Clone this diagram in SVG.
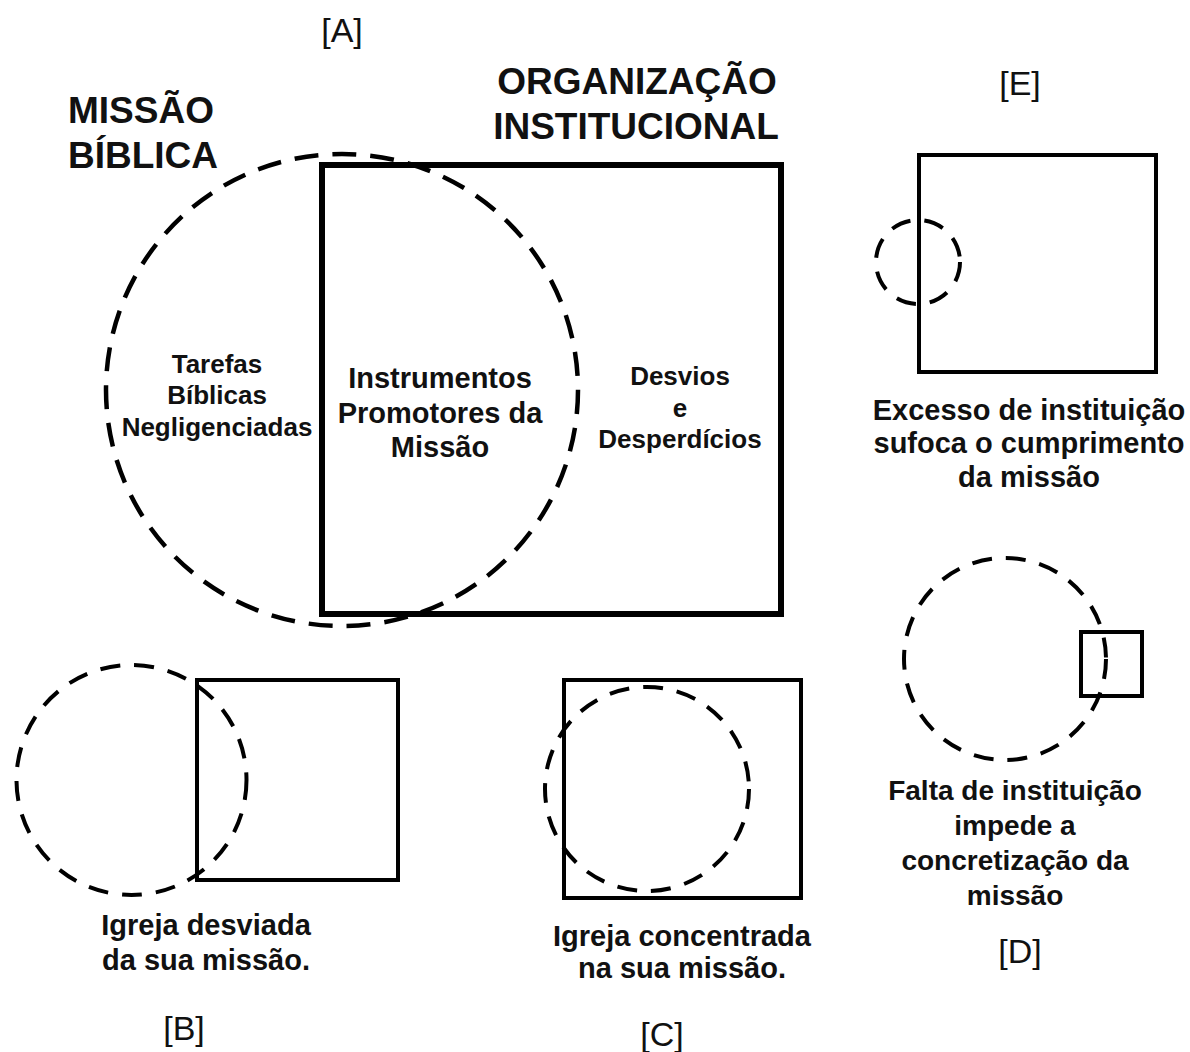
<svg xmlns="http://www.w3.org/2000/svg" width="1190" height="1052" viewBox="0 0 1190 1052">
<style>
.bg{fill:#fff}
.box{fill:none;stroke:#000;stroke-linejoin:miter}
.dc{fill:none;stroke:#000}
text{font-family:"Liberation Sans",Arial,sans-serif;fill:#111}
.t{font-weight:bold;font-size:37px}
.l{font-weight:bold;font-size:26px;text-anchor:middle}
.m{font-weight:bold;font-size:29px;text-anchor:middle}
.c{font-weight:bold;font-size:29px;text-anchor:middle}
.d{font-weight:bold;font-size:28px;text-anchor:middle}
.k{font-size:34px;text-anchor:middle}
</style>
<rect class="bg" x="0" y="0" width="1190" height="1052"/>
<g id="diagramA">
<rect class="box" x="322" y="165" width="459" height="449" stroke-width="6"/>
<circle class="dc" cx="342" cy="390" r="236" stroke-width="4.5" stroke-dasharray="24 14"/>
<text class="k" x="342" y="42">[A]</text>
<text class="t" x="68" y="123">MISSÃO</text>
<text class="t" x="68" y="168">BÍBLICA</text>
<text class="t" x="637" y="94" text-anchor="middle">ORGANIZAÇÃO</text>
<text class="t" x="636" y="139" text-anchor="middle">INSTITUCIONAL</text>
<text class="l" x="217" y="373">Tarefas</text>
<text class="l" x="217" y="404">Bíblicas</text>
<text class="l" x="217" y="436">Negligenciadas</text>
<text class="m" x="440" y="388">Instrumentos</text>
<text class="m" x="440" y="423">Promotores da</text>
<text class="m" x="440" y="457">Missão</text>
<text class="l" x="680" y="385">Desvios</text>
<text class="l" x="680" y="417">e</text>
<text class="l" x="680" y="448">Desperdícios</text>
</g>
<g id="diagramB">
<rect class="box" x="197" y="680" width="201" height="200" stroke-width="4"/>
<circle class="dc" cx="131.5" cy="780" r="115" stroke-width="4" stroke-dasharray="20 14"/>
<text class="c" x="206" y="935">Igreja desviada</text>
<text class="c" x="206" y="970">da sua missão.</text>
<text class="k" x="184" y="1040">[B]</text>
</g>
<g id="diagramC">
<rect class="box" x="564" y="680" width="237" height="218" stroke-width="4"/>
<circle class="dc" cx="647" cy="789" r="102" stroke-width="4" stroke-dasharray="20 14"/>
<text class="c" x="682" y="946">Igreja concentrada</text>
<text class="c" x="682" y="978">na sua missão.</text>
<text class="k" x="662" y="1046">[C]</text>
</g>
<g id="diagramE">
<rect class="box" x="919" y="155" width="237" height="217" stroke-width="4"/>
<circle class="dc" cx="918" cy="262" r="42" stroke-width="4" stroke-dasharray="20 14"/>
<text class="k" x="1020" y="95">[E]</text>
<text class="c" x="1029" y="420">Excesso de instituição</text>
<text class="c" x="1029" y="453">sufoca o cumprimento</text>
<text class="c" x="1029" y="487">da missão</text>
</g>
<g id="diagramD">
<circle class="dc" cx="1005" cy="659" r="101" stroke-width="4" stroke-dasharray="20 14"/>
<rect class="box" x="1081" y="632" width="61" height="64" stroke-width="4"/>
<text class="d" x="1015" y="800">Falta de instituição</text>
<text class="d" x="1015" y="835">impede a</text>
<text class="d" x="1015" y="870">concretização da</text>
<text class="d" x="1015" y="905">missão</text>
<text class="k" x="1020" y="963">[D]</text>
</g>
<g id="connectors"></g>
</svg>
